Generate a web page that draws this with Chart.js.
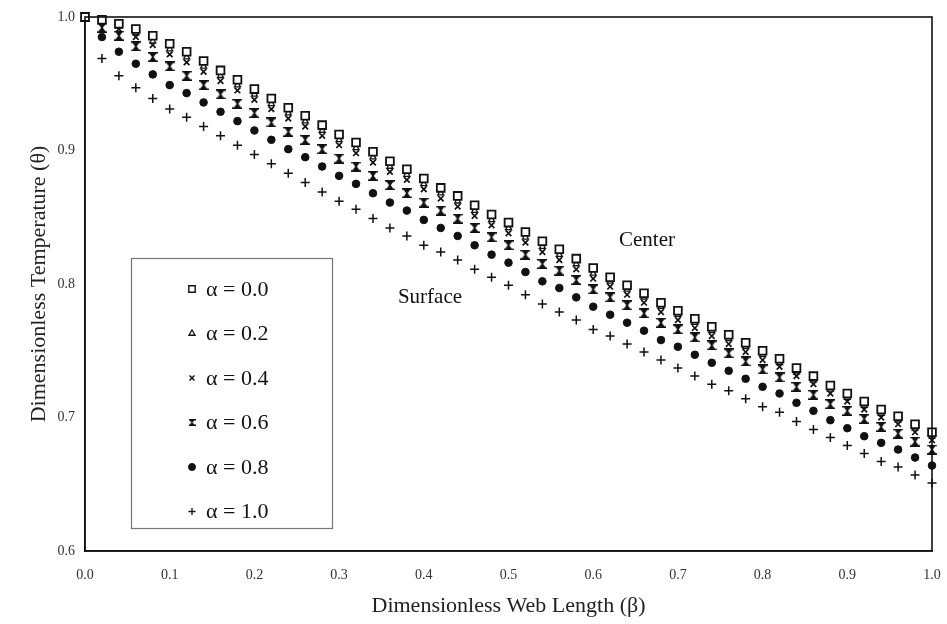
<!DOCTYPE html>
<html>
<head>
<meta charset="utf-8">
<script src="https://cdn.jsdelivr.net/npm/chart.js@4.4.1/dist/chart.umd.min.js"></script>
<style>
html,body{margin:0;padding:0;background:#fff;}
#wrap{width:947px;height:624px;}
</style>
</head>
<body>
<div id="wrap"><canvas id="c" width="947" height="624"></canvas></div>
<script>
const BETA = [0.00,0.02,0.04,0.06,0.08,0.10,0.12,0.14,0.16,0.18,0.20,0.22,0.24,0.26,0.28,0.30,0.32,0.34,0.36,0.38,0.40,0.42,0.44,0.46,0.48,0.50,0.52,0.54,0.56,0.58,0.60,0.62,0.64,0.66,0.68,0.70,0.72,0.74,0.76,0.78,0.80,0.82,0.84,0.86,0.88,0.90,0.92,0.94,0.96,0.98,1.00];
const ALPHA_00 = [1.000,0.998,0.995,0.991,0.986,0.980,0.974,0.967,0.960,0.953,0.946,0.939,0.932,0.926,0.919,0.912,0.906,0.899,0.892,0.886,0.879,0.872,0.866,0.859,0.852,0.846,0.839,0.832,0.826,0.819,0.812,0.805,0.799,0.793,0.786,0.780,0.774,0.768,0.762,0.756,0.750,0.744,0.737,0.731,0.724,0.718,0.712,0.706,0.701,0.695,0.689];
const ALPHA_02 = [1.000,0.997,0.993,0.988,0.982,0.976,0.970,0.963,0.956,0.949,0.942,0.935,0.928,0.922,0.915,0.908,0.902,0.895,0.888,0.882,0.875,0.868,0.862,0.855,0.848,0.842,0.835,0.828,0.822,0.815,0.808,0.802,0.796,0.790,0.783,0.777,0.771,0.765,0.759,0.753,0.747,0.741,0.734,0.728,0.721,0.715,0.709,0.703,0.698,0.692,0.686];
const ALPHA_04 = [1.000,0.996,0.991,0.985,0.979,0.972,0.966,0.959,0.952,0.945,0.938,0.931,0.924,0.918,0.911,0.904,0.898,0.891,0.884,0.878,0.871,0.864,0.858,0.851,0.844,0.838,0.831,0.824,0.818,0.811,0.804,0.798,0.792,0.786,0.779,0.773,0.767,0.761,0.755,0.749,0.743,0.738,0.731,0.725,0.718,0.712,0.706,0.700,0.695,0.689,0.683];
const ALPHA_06 = [1.000,0.992,0.986,0.978,0.970,0.963,0.956,0.949,0.942,0.935,0.928,0.921,0.914,0.908,0.901,0.894,0.888,0.881,0.874,0.868,0.861,0.855,0.849,0.842,0.835,0.829,0.822,0.815,0.810,0.803,0.796,0.790,0.784,0.778,0.771,0.766,0.760,0.754,0.748,0.742,0.736,0.730,0.723,0.717,0.710,0.705,0.699,0.693,0.688,0.682,0.676];
const ALPHA_08 = [1.000,0.985,0.974,0.965,0.957,0.949,0.943,0.936,0.929,0.922,0.915,0.908,0.901,0.895,0.888,0.881,0.875,0.868,0.861,0.855,0.848,0.842,0.836,0.829,0.822,0.816,0.809,0.802,0.797,0.790,0.783,0.777,0.771,0.765,0.758,0.753,0.747,0.741,0.735,0.729,0.723,0.718,0.711,0.705,0.698,0.692,0.686,0.681,0.676,0.670,0.664];
const ALPHA_10 = [1.000,0.969,0.956,0.947,0.939,0.931,0.925,0.918,0.911,0.904,0.897,0.890,0.883,0.876,0.869,0.862,0.856,0.849,0.842,0.836,0.829,0.824,0.818,0.811,0.805,0.799,0.792,0.785,0.779,0.773,0.766,0.761,0.755,0.749,0.743,0.737,0.731,0.725,0.720,0.714,0.708,0.704,0.697,0.691,0.685,0.679,0.673,0.667,0.663,0.657,0.651];
const SERIES_LABELS = ['α = 0.0','α = 0.2','α = 0.4','α = 0.6','α = 0.8','α = 1.0'];
const X_TICKS = [0.0,0.1,0.2,0.3,0.4,0.5,0.6,0.7,0.8,0.9,1.0];
const Y_TICKS = [0.6,0.7,0.8,0.9,1.0];
const X_TITLE = 'Dimensionless Web Length (β)';
const Y_TITLE = 'Dimensionless Temperature (θ)';

function makeHourglass(s){
  const c = document.createElement('canvas');
  c.width = s; c.height = s;
  const g = c.getContext('2d');
  g.fillStyle = '#111';
  g.fillRect(0,0,s,1.5);
  g.fillRect(0,s-1.5,s,1.5);
  g.beginPath();
  g.moveTo(0.5,0); g.lineTo(s-0.5,0); g.lineTo(s/2+0.8,s/2); g.lineTo(s/2-0.8,s/2); g.closePath(); g.fill();
  g.beginPath();
  g.moveTo(0.5,s); g.lineTo(s-0.5,s); g.lineTo(s/2+0.8,s/2); g.lineTo(s/2-0.8,s/2); g.closePath(); g.fill();
  return c;
}
const hgBig = makeHourglass(10);
const hgSmall = makeHourglass(7);

const SERIES = [ALPHA_00,ALPHA_02,ALPHA_04,ALPHA_06,ALPHA_08,ALPHA_10];
const STYLES = [
  {pointStyle:'rect', pointRadius:5.5, backgroundColor:'#fff', borderColor:'#111', borderWidth:1.8},
  {pointStyle:'triangle', pointRadius:3.5, backgroundColor:'#fff', borderColor:'#111', borderWidth:1.3},
  {pointStyle:'crossRot', pointRadius:4, backgroundColor:'#111', borderColor:'#111', borderWidth:1.7},
  {pointStyle:hgBig, pointRadius:5, backgroundColor:'#111', borderColor:'#111', borderWidth:1},
  {pointStyle:'circle', pointRadius:3.8, backgroundColor:'#111', borderColor:'#111', borderWidth:1},
  {pointStyle:'cross', pointRadius:4.5, backgroundColor:'#111', borderColor:'#111', borderWidth:1.5}
];
const LEG_STYLES = [
  {pointStyle:'rect', radius:4.5, fill:'#fff', bw:1.4},
  {pointStyle:'triangle', radius:3.5, fill:'#fff', bw:1.3},
  {pointStyle:'crossRot', radius:3.5, fill:'#111', bw:1.5},
  {pointStyle:hgSmall, radius:3.5, fill:'#111', bw:1},
  {pointStyle:'circle', radius:3.5, fill:'#111', bw:1},
  {pointStyle:'cross', radius:3.5, fill:'#111', bw:1.3}
];

const datasets = SERIES.map((arr,i)=>Object.assign({
  label: SERIES_LABELS[i],
  data: arr.map((v,j)=>({x:BETA[j], y:v})),
  showLine:false,
  clip:false
}, STYLES[i]));

const SERIF = "'Liberation Serif','DejaVu Serif',serif";

const overlay = {
  id:'overlay',
  afterDatasetsDraw(chart){
    const {ctx, chartArea:a} = chart;
    ctx.save();
    ctx.strokeStyle = '#111';
    ctx.lineWidth = 1.6;
    ctx.strokeRect(a.left, a.top, a.right-a.left, a.bottom-a.top);
    ctx.fillStyle = '#111';
    ctx.font = "21px " + SERIF;
    ctx.textAlign = 'center';
    ctx.textBaseline = 'middle';
    ctx.fillText('Center', 647, 240);
    ctx.fillText('Surface', 430, 297);
    ctx.fillStyle = '#fff';
    ctx.fillRect(131, 258, 201, 270);
    ctx.strokeStyle = '#777';
    ctx.lineWidth = 1.2;
    ctx.strokeRect(131.5, 258.5, 201, 270);
    for(let i=0;i<SERIES_LABELS.length;i++){
      const y = 289 + i*44.5;
      const st = LEG_STYLES[i];
      ctx.fillStyle = st.fill;
      ctx.strokeStyle = '#111';
      ctx.lineWidth = st.bw;
      Chart.helpers.drawPoint(ctx, {pointStyle:st.pointStyle, radius:st.radius, rotation:0, borderWidth:st.bw}, 192, y);
      ctx.fillStyle = '#111';
      ctx.font = "22px " + SERIF;
      ctx.textAlign = 'left';
      ctx.textBaseline = 'middle';
      ctx.fillText(SERIES_LABELS[i], 206, y+1);
    }
    ctx.restore();
  }
};

new Chart(document.getElementById('c'), {
  type:'scatter',
  data:{datasets},
  plugins:[overlay],
  options:{
    responsive:false,
    animation:false,
    events:[],
    layout:{padding:{left:26,right:15,top:17,bottom:5}},
    plugins:{legend:{display:false}, tooltip:{enabled:false}},
    scales:{
      x:{
        type:'linear', min:0, max:1,
        afterFit(s){ s.height = 68; s.paddingLeft = 0; s.paddingRight = 0; },
        afterBuildTicks(s){ s.ticks = X_TICKS.map(v=>({value:v})); },
        grid:{display:false, drawTicks:true, tickLength:4, color:'#111'},
        border:{display:true, color:'#111', width:1.6},
        ticks:{color:'#333', padding:12, maxRotation:0, font:{family:SERIF, size:14}, callback:v=>Number(v).toFixed(1)},
        title:{display:true, text:X_TITLE, color:'#222', font:{family:SERIF, size:22}, padding:{top:4,bottom:0}}
      },
      y:{
        type:'linear', min:0.6, max:1.0,
        afterFit(s){ s.width = 59; s.paddingTop = 0; s.paddingBottom = 0; },
        afterBuildTicks(s){ s.ticks = Y_TICKS.map(v=>({value:v})); },
        grid:{display:false, tickLength:4, color:'#111'},
        border:{display:true, color:'#111', width:1.6},
        ticks:{color:'#333', padding:6, font:{family:SERIF, size:14}, callback:v=>Number(v).toFixed(1)},
        title:{display:true, text:Y_TITLE, color:'#222', font:{family:SERIF, size:22}, padding:{top:0,bottom:4}}
      }
    }
  }
});
</script>
</body>
</html>
